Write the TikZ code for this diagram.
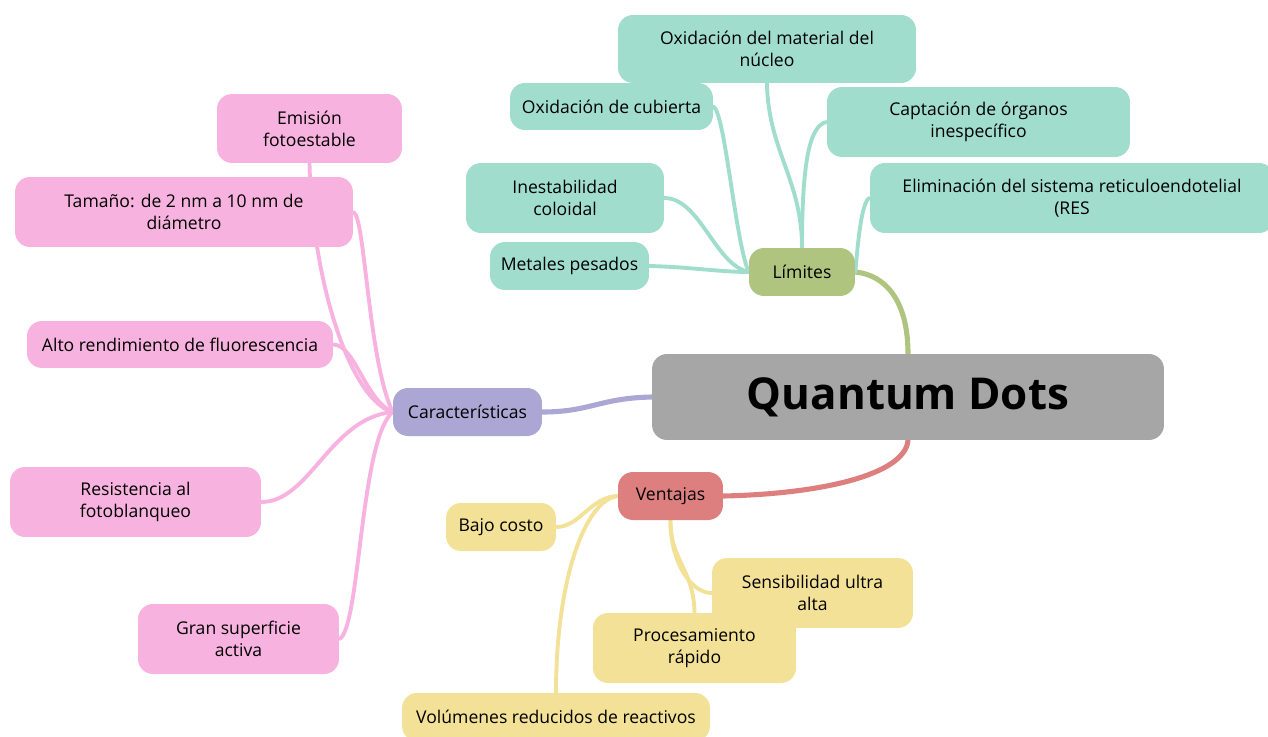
\documentclass[tikz,border=0pt]{standalone}
\usepackage{fontspec}
\setmainfont{Open Sans}
\usetikzlibrary{backgrounds}
\definecolor{qdgray}{HTML}{A6A6A6}
\definecolor{limgreen}{HTML}{AEC47F}
\definecolor{carpurple}{HTML}{ABA6D3}
\definecolor{venred}{HTML}{DE7F7F}
\definecolor{limteal}{HTML}{A0DDCD}
\definecolor{carpink}{HTML}{F8B2DF}
\definecolor{venyellow}{HTML}{F2E196}

\begin{document}
\begin{tikzpicture}[x=0.02cm, y=-0.02cm,
  box/.style={rectangle, rounded corners=0.3cm, inner sep=0pt, align=center,
    font=\fontsize{10}{12.4}\selectfont},
  link/.style={line width=2.2pt, line cap=round},
  mainlink/.style={line width=2.9pt, line cap=round}]
\useasboundingbox (0,0) rectangle (1268,737);

\node[box, fill=qdgray, minimum width=10.24cm, minimum height=1.72cm,
  font=\fontsize{25}{30}\selectfont\bfseries] (qd) at (908,397) {Quantum Dots};
\node[box, fill=limgreen, minimum width=2.12cm, minimum height=0.96cm] (lim) at (802,272) {Límites};
\node[box, fill=carpurple, minimum width=2.98cm, minimum height=0.96cm] (car) at (467.5,412) {Características};
\node[box, fill=venred, minimum width=2.1cm, minimum height=0.96cm] (ven) at (670.5,496) {Ventajas};

% Limites
\foreach \n/\x/\y/\w/\h/\t in {
  oxn/767/49/5.96/1.36/{Oxidación del material del\\núcleo},
  oxc/611.5/106.5/4.06/0.94/{Oxidación de cubierta},
  cap/978.5/122/6.06/1.4/{Captación de órganos\\inespecífico},
  eli/1072/198/8.08/1.4/{Eliminación del sistema reticuloendotelial\\(RES},
  ine/565/198/3.96/1.4/{Inestabilidad\\coloidal},
  met/569.5/266/3.18/0.96/{Metales pesados}} {
\node[box, fill=limteal, minimum width=\w cm, minimum height=\h cm] (\n) at (\x,\y) {\t};
}

% Caracteristicas
\foreach \n/\x/\y/\w/\h/\t in {
  emi/309.5/128.5/3.7/1.38/{Emisión\\fotoestable},
  tam/184/212/6.76/1.4/{Tamaño: de 2 nm a 10 nm de\\diámetro},
  alt/180/344.5/6.12/0.94/{Alto rendimiento de fluorescencia},
  res/135.5/502/5.02/1.4/{Resistencia al\\fotoblanqueo},
  gran/238.5/639/4.02/1.4/{Gran superficie\\activa}} {
\node[box, fill=carpink, minimum width=\w cm, minimum height=\h cm] (\n) at (\x,\y) {\t};
}

% Ventajas
\foreach \n/\x/\y/\w/\h/\t in {
  baj/501/527/2.2/0.96/{Bajo costo},
  sen/812.5/593/4.02/1.4/{Sensibilidad ultra\\alta},
  pro/694.5/648/4.06/1.4/{Procesamiento\\rápido},
  vol/556/717/6.16/0.96/{Volúmenes reducidos de reactivos}} {
\node[box, fill=venyellow, minimum width=\w cm, minimum height=\h cm] (\n) at (\x,\y) {\t};
}

\begin{scope}[on background layer]
\draw[mainlink, limgreen] (lim.east) .. controls (885,275) and (908,300) .. (qd.north);
\draw[mainlink, carpurple] (car.east) .. controls (590,412) and (600,398) .. (qd.west);
\draw[mainlink, venred] (ven.east) .. controls (820,494) and (905,475) .. (qd.south);

\draw[link, limteal] (met.east) .. controls (690,267) and (720,272) .. (lim.west);
\draw[link, limteal] (ine.east) .. controls (700,198) and (715,265) .. (lim.west);
\draw[link, limteal] (oxc.east) .. controls (725,112) and (735,240) .. (lim.west);
\draw[link, limteal] (oxn.south) .. controls (768,150) and (802,180) .. (lim.north);
\draw[link, limteal] (cap.west) .. controls (810,125) and (802,160) .. (lim.north);
\draw[link, limteal] (eli.west) .. controls (862,200) and (858,240) .. (lim.east);

\draw[link, carpink] (emi.south) .. controls (312,280) and (350,400) .. (car.west);
\draw[link, carpink] (tam.east) .. controls (365,215) and (368,360) .. (car.west);
\draw[link, carpink] (alt.east) .. controls (355,345) and (365,400) .. (car.west);
\draw[link, carpink] (res.east) .. controls (310,502) and (330,418) .. (car.west);
\draw[link, carpink] (gran.east) .. controls (360,630) and (360,440) .. (car.west);

\draw[link, venyellow] (baj.east) .. controls (580,527) and (590,497) .. (ven.west);
\draw[link, venyellow] (vol.north) .. controls (556,580) and (585,500) .. (ven.west);
\draw[link, venyellow] (ven.south) .. controls (670,560) and (690,593) .. (sen.west);
\draw[link, venyellow] (ven.south) .. controls (670,560) and (694,570) .. (pro.north);
\end{scope}
\end{tikzpicture}
\end{document}
